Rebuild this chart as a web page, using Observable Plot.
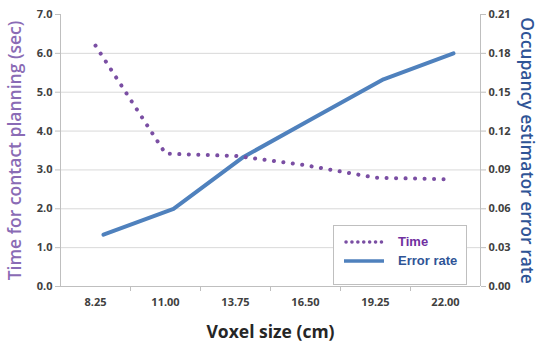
<!DOCTYPE html>
<html><head><meta charset="utf-8">
<script src="https://cdn.jsdelivr.net/npm/d3@7"></script>
<script src="https://cdn.jsdelivr.net/npm/@observablehq/plot@0.6"></script>
<style>
body{margin:0;background:#fff;}
#wrap{position:relative;width:539px;height:343px;}
#legend{position:absolute;left:333px;top:225px;width:132px;height:58px;border:1px solid #bfbfbf;background:#fff;font-family:"Liberation Sans",Arial,sans-serif;font-weight:bold;font-size:13px;}
.item{position:absolute;left:10px;display:flex;align-items:center;}
.item span{margin-left:14px;}
</style></head>
<body><div id="wrap"></div>
<script>
const voxelSizes = [8.25, 11.00, 13.75, 16.50, 19.25, 22.00];
const timeSec = [6.2, 3.42, 3.36, 3.12, 2.8, 2.76];
const errorRate = [0.04, 0.06, 0.10, 0.13, 0.16, 0.18];
const leftTicks = [0, 1, 2, 3, 4, 5, 6, 7];
const rightTicks = [0.00, 0.03, 0.06, 0.09, 0.12, 0.15, 0.18, 0.21];
const seriesNames = ["Time", "Error rate"];

const ratio = 7 / 0.21;
const timeData = voxelSizes.map((v, i) => ({v, y: timeSec[i]}));
const errData = voxelSizes.map((v, i) => ({v, y: errorRate[i] * ratio}));
const half = (voxelSizes[1] - voxelSizes[0]) / 2;
const bounds = voxelSizes.slice(0, -1).map(v => v + half);

const tickFont = {fontFamily: "'Open Sans', sans-serif", fontWeight: "bold", fontSize: 11};

const chart = Plot.plot({
  width: 539, height: 343,
  marginLeft: 60, marginRight: 59, marginTop: 14, marginBottom: 57,
  style: {fontFamily: "'Open Sans', sans-serif", background: "#fff", color: "#404040"},
  x: {type: "linear", domain: [voxelSizes[0] - half, voxelSizes[voxelSizes.length - 1] + half]},
  y: {domain: [0, 7]},
  marks: [
    Plot.ruleY(leftTicks.slice(1, -1), {stroke: "#d9d9d9", strokeWidth: 1}),
    Plot.ruleY([0], {stroke: "#bfbfbf"}),
    Plot.ruleX([voxelSizes[0] - half], {stroke: "#bfbfbf"}),
    Plot.ruleX([voxelSizes[voxelSizes.length - 1] + half], {stroke: "#bfbfbf"}),
    Plot.axisY({ticks: leftTicks, tickFormat: d => d.toFixed(1), tickSize: 5, stroke: "#bfbfbf", label: null, ...tickFont, tickPadding: 3, fill: "#404040"}),
    Plot.axisY({anchor: "right", ticks: leftTicks, tickFormat: (d, i) => rightTicks[i].toFixed(2), tickSize: 5, stroke: "#bfbfbf", label: null, ...tickFont, tickPadding: 3, fill: "#404040"}),
    Plot.axisX({ticks: voxelSizes, tickFormat: d => d.toFixed(2), tickSize: 0, tickPadding: 12, label: null, ...tickFont, fill: "#404040"}),
    Plot.axisX({ticks: bounds, tickFormat: () => "", tickSize: 5, stroke: "#bfbfbf", label: null}),
    Plot.line(errData, {x: "v", y: "y", stroke: "#4f81bd", strokeWidth: 4, dx: 8, strokeLinecap: "round"}),
    Plot.line(timeData, {x: "v", y: "y", stroke: "#7a4ea3", strokeWidth: 4, strokeDasharray: "0.1 9.4", strokeLinecap: "round"}),
    Plot.text(["Time for contact planning (sec)"], {frameAnchor: "left", dx: -45, rotate: -90, fontSize: 17.5, fontWeight: 600, fill: "#8a6bb5", textAnchor: "middle", lineAnchor: "middle"}),
    Plot.text(["Occupancy estimator error rate"], {frameAnchor: "right", dx: 46, rotate: 90, fontSize: 17.5, fontWeight: 600, fill: "#2f5496", textAnchor: "middle", lineAnchor: "middle"}),
    Plot.text(["Voxel size (cm)"], {frameAnchor: "bottom", dy: 46, fontSize: 17.5, fontWeight: "bold", fill: "#262626", textAnchor: "middle", lineAnchor: "middle"})
  ]
});
document.getElementById("wrap").appendChild(chart);

const legend = document.createElement("div");
legend.id = "legend";
legend.innerHTML = `
<div class="item" style="top:8px"><svg width="40" height="8"><line x1="2" y1="4" x2="38" y2="4" stroke="#7a4ea3" stroke-width="3.5" stroke-dasharray="0.1 5.8" stroke-linecap="round"/></svg><span style="color:#7030a0">${seriesNames[0]}</span></div>
<div class="item" style="top:27px"><svg width="40" height="8"><line x1="0" y1="4" x2="40" y2="4" stroke="#4f81bd" stroke-width="3.5"/></svg><span style="color:#2f5496">${seriesNames[1]}</span></div>`;
document.getElementById("wrap").appendChild(legend);
</script></body></html>
